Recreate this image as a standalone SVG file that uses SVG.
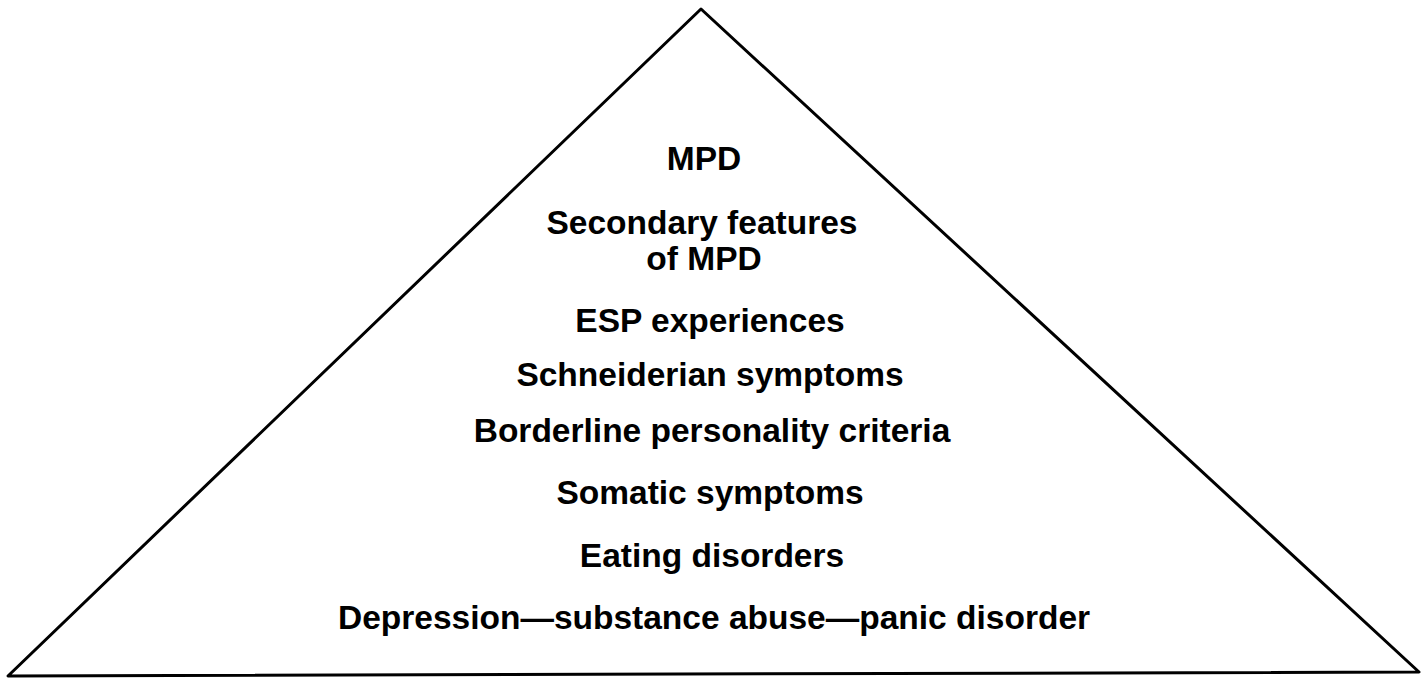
<svg xmlns="http://www.w3.org/2000/svg" width="1424" height="680" viewBox="0 0 1424 680">
  <style>
    .edge { fill: none; stroke: #000; stroke-width: 3; stroke-linejoin: round; stroke-linecap: round; }
    .lbl { font-family: "Liberation Sans", Arial, sans-serif; font-weight: bold; font-size: 33.5px; fill: #000; text-anchor: middle; }
  </style>
  <rect width="1424" height="680" fill="#fff"/>
  <g id="connectors">
    <path class="edge" d="M701 9 L1419 672 L8 676 Z"/>
  </g>
  <g id="tier-mpd"><text class="lbl" x="704" y="170">MPD</text></g>
  <g id="tier-secondary">
    <text class="lbl" x="702" y="234">Secondary features</text>
    <text class="lbl" x="704" y="270">of MPD</text>
  </g>
  <g id="tier-esp"><text class="lbl" x="710" y="332">ESP experiences</text></g>
  <g id="tier-schneiderian"><text class="lbl" x="710" y="386">Schneiderian symptoms</text></g>
  <g id="tier-borderline"><text class="lbl" x="712" y="442">Borderline personality criteria</text></g>
  <g id="tier-somatic"><text class="lbl" x="710" y="504">Somatic symptoms</text></g>
  <g id="tier-eating"><text class="lbl" x="712" y="567">Eating disorders</text></g>
  <g id="tier-base"><text class="lbl" x="714" y="629">Depression—substance abuse—panic disorder</text></g>
</svg>
